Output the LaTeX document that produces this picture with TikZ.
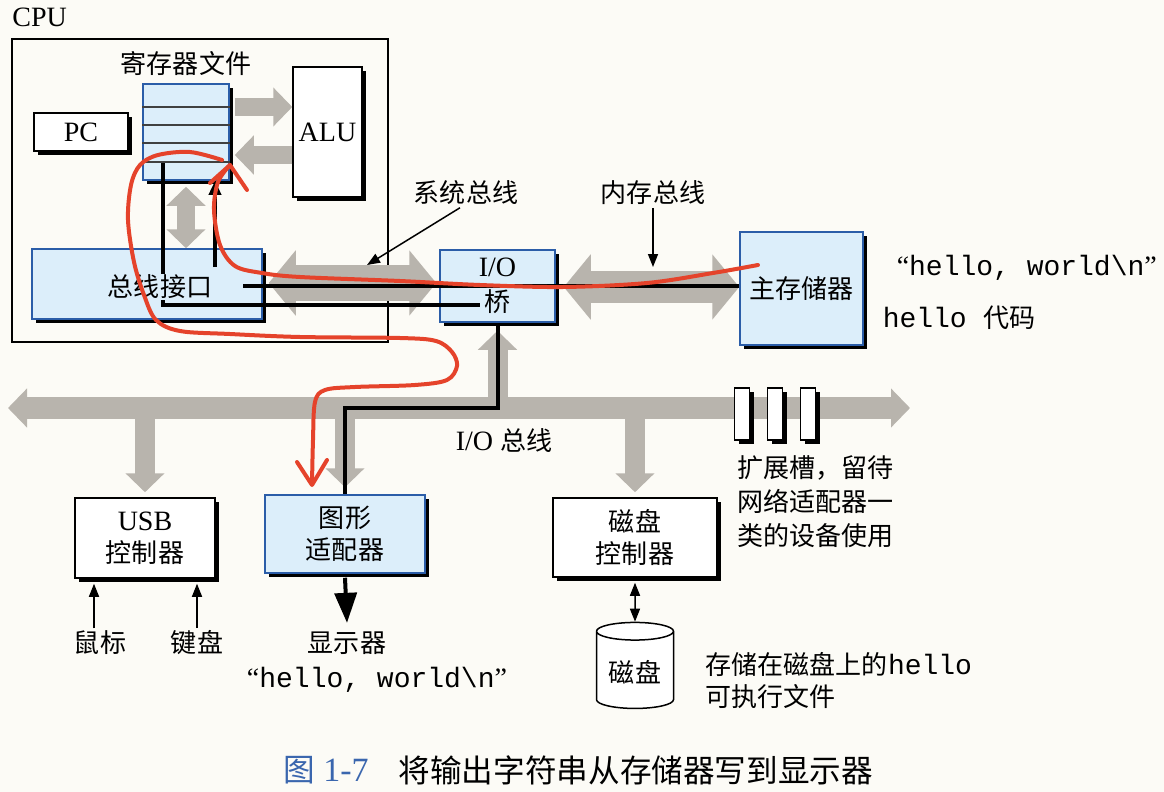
\documentclass[tikz,border=0pt]{standalone}
\usepackage{fontspec}
\setmainfont{Liberation Serif}
\setmonofont{Liberation Mono}
\newfontfamily\cjk[Scale=0.93]{Noto Sans CJK SC}
\usetikzlibrary{arrows.meta, positioning, shapes.geometric, shadows}
\definecolor{cpaper}{HTML}{FCFBF6}
\definecolor{cbluefill}{HTML}{DCEEFA}
\definecolor{cblueline}{HTML}{2B5DA8}
\definecolor{cbus}{HTML}{B8B4AD}
\definecolor{cred}{HTML}{E5432B}
\definecolor{ccaption}{HTML}{3A66AE}
\tikzset{
  every picture/.style={x=1pt, y=-1pt, line width=1.5pt},
  txt/.style={font=\fontsize{28}{32}\selectfont, align=center, inner sep=2pt},
  mono/.style={font=\fontsize{28}{32}\selectfont\ttfamily, inner sep=2pt},
  box/.style={draw=black, fill=white, line width=1.5pt, inner sep=0pt, align=center,
    font=\fontsize{28}{32}\selectfont,
    drop shadow={shadow xshift=4pt, shadow yshift=-4pt, fill=black, opacity=1}},
  bluebox/.style={box, draw=cblueline, fill=cbluefill},
  bus/.style={draw=cbus, line width=#1},
  dataline/.style={draw=black, line width=4pt},
  thinline/.style={draw=black, line width=1.5pt},
  redpen/.style={draw=cred, line width=4pt, line cap=round, line join=round},
  bighead/.tip={Triangle[length=27pt, width=64pt]},
  midhead/.tip={Triangle[length=19pt, width=38pt]},
  smallhead/.tip={Triangle[length=13pt, width=10pt]},
}

\begin{document}
\begin{tikzpicture}
  \fill[cpaper] (0,0) rectangle (1164,792);
  \useasboundingbox (0,0) rectangle (1164,792);

  % CPU
  \node[draw, line width=2.5pt, minimum width=376, minimum height=303, inner sep=0pt] (cpu) at (200,190.5) {};
  \node[txt, anchor=south west, inner sep=0pt] (cpulbl) at ([xshift=1pt, yshift=10pt]cpu.north west) {CPU};

  \node[bluebox, minimum width=86, minimum height=96] (reg) at (186,132) {};
  \foreach \y in {107,125,143,162}
    \draw[black!75, line width=1.3pt] (reg.west |- 0,\y) -- (reg.east |- 0,\y);
  \node[txt, above=5pt of reg] (reglbl) {\cjk 寄存器文件};
  \node[box, minimum width=94, minimum height=38] (pc) at (81,132) {PC};
  \node[box, minimum width=69, minimum height=130] (alu) at (327.5,132) {ALU};
  \node[bluebox, minimum width=230, minimum height=70] (bi) at (147,284) {};

  \node[bluebox, minimum width=115, minimum height=72, font=\fontsize{28}{35}\selectfont] (br) at (497.5,286) {I/O\\{\cjk 桥}};
  \node[bluebox, minimum width=123, minimum height=113] (mem) at (801.5,288.5) {\cjk 主存储器};
  \node[mono, anchor=west] (hw1) at (894,268) {{\rmfamily “}hello, world\textbackslash n{\rmfamily ”}};
  \node[mono, anchor=west] (hcode) at (880,318) {hello {\cjk 代码}};

  \node[txt] (sysbl) at (466,193) {\cjk 系统总线};
  \node[txt] (membl) at (653,193) {\cjk 内存总线};
  \coordinate (sysp) at (367,265);
  \coordinate (memp) at (653,267);

  % I/O bus and devices
  \coordinate (iol) at (8,408);
  \coordinate (ior) at (910,408);
  \node[box, minimum width=140, minimum height=80] (usb) at (145,538) {USB\\{\cjk 控制器}};
  \node[bluebox, minimum width=160, minimum height=78] (gfx) at (345,534) {{\cjk 图形}\\{\cjk 适配器}};
  \node[box, minimum width=164, minimum height=79] (dc) at (635,537.5) {{\cjk 磁盘}\\{\cjk 控制器}};

  \draw[bus=22, {midhead}-{midhead}] (iol) -- (ior);
  \draw[bus=20, -{midhead}] (usb.north |- iol) -- ([yshift=5pt]usb.north);
  \draw[bus=20, -{midhead}] (gfx.north |- iol) -- ([yshift=7pt]gfx.north);
  \draw[bus=20, -{midhead}] (dc.north |- iol) -- ([yshift=5pt]dc.north);
  \draw[bus=20, -{midhead}] (br.south |- iol) -- ([yshift=-8pt]br.south);
  \foreach \x [count=\i] in {742,775,808}
    \node[box, minimum width=15, minimum height=52] (slot\i) at (\x,414) {};
  \node[txt, align=left, anchor=north west, font=\fontsize{28}{34}\selectfont\cjk] (slotlbl) at (735,453) {扩展槽，留待\\网络适配器一\\类的设备使用};
  \node[txt] (iobl) at (504,441) {I/O {\cjk 总线}};

  % gray buses inside and around the CPU
  \draw[bus=18, -{midhead}] ([xshift=5pt, yshift=25pt]reg.east) -- ([yshift=25pt]alu.west);
  \draw[bus=18, -{midhead}] ([yshift=-23pt]alu.west) -- ([xshift=5pt, yshift=-23pt]reg.east);
  \draw[bus=18, {midhead}-{midhead}] ([yshift=-6pt]reg.south) -- (reg.south |- bi.north);
  \draw[bus=36, {bighead}-{bighead}] ([xshift=6pt, yshift=1pt]bi.east) -- ([xshift=-3pt, yshift=3pt]br.west);
  \draw[bus=32, {bighead}-{bighead}] ([xshift=8pt, yshift=-1pt]br.east) -- ([yshift=1.5pt]mem.west);

  \draw[thinline, -{smallhead}] ([xshift=-6pt]sysbl.south) -- (sysp);
  \draw[thinline, -{smallhead}] (membl.south) -- (memp);

  % data paths
  \coordinate (ia) at (243,286);
  \coordinate (ib) at (215,267);
  \coordinate (ic) at (163,163);
  \coordinate (id) at (480,305);
  \draw[dataline] (mem.west |- ia) -- (ia);
  \draw[dataline, -{Triangle[length=14pt, width=12pt]}] (ib) -- (ib |- reg.south);
  \draw[dataline] (ic) |- (id);
  \draw[dataline] (br.south) |- (gfx.north |- iol) -- (gfx.north);
  \node[txt, fill=cbluefill, inner sep=1pt] (bilbl) at (160,287) {\cjk 总线接口};

  \node[txt] (mouse) at (100,643) {\cjk 鼠标};
  \node[txt] (kbd) at (197,643) {\cjk 键盘};
  \node[txt] (disp) at (347,643) {\cjk 显示器};
  \node[mono] (hw2) at (377,680) {{\rmfamily “}hello, world\textbackslash n{\rmfamily ”}};
  \draw[thinline, -{smallhead}] ([xshift=-6pt]mouse.north) -- ([xshift=-51pt, yshift=-5pt]usb.south);
  \draw[thinline, -{smallhead}] (kbd.north) -- ([xshift=52pt, yshift=-5pt]usb.south);
  \draw[dataline, -{Triangle[length=30pt, width=22pt]}] ([yshift=-4pt]gfx.south) -- ([yshift=6pt]disp.north);

  \node[draw, cylinder, shape border rotate=90, aspect=0.3, minimum height=86, minimum width=77,
    fill=white, line width=1.5pt, font=\fontsize{28}{32}\selectfont\cjk] (disk) at (635,672) {磁盘};
  \draw[thinline, {smallhead}-{smallhead}] ([yshift=-5pt]dc.south) -- (disk.north);
  \node[txt, anchor=west, align=left] (disklbl) at (703,681) {{\cjk 存储在磁盘上的}\texttt{hello}\\{\cjk 可执行文件}};

  \node[txt, font=\fontsize{34}{38}\selectfont, text=ccaption] (figno) at (326,770) {{\cjk 图} 1-7};
  \node[txt, font=\fontsize{34}{38}\selectfont\cjk, anchor=west] (caption) at (396,770) {将输出字符串从存储器写到显示器};

  % hand-drawn red path
  \draw[redpen] plot[smooth, tension=0.55] coordinates {(758,265) (713,273) (647,283) (563,287) (480,285) (400,281) (300,277) (262,273) (235,266) (220,245) (214,210) (218,182) (230,165)};
  \draw[redpen] (210,183) -- (230,165) -- (247,190);
  \draw[redpen] plot[smooth, tension=0.55] coordinates {(222,160) (190,152) (158,155) (140,165) (131,185) (128,220) (134,262) (144,295) (156,320) (180,331) (230,334) (300,337) (400,338) (436,341) (452,352) (457,366) (447,380) (415,385) (355,387) (325,390) (315,402) (313,440) (312,484)};
  \draw[redpen] (297,462) -- (312,485) -- (327,460);
\end{tikzpicture}
\end{document}
